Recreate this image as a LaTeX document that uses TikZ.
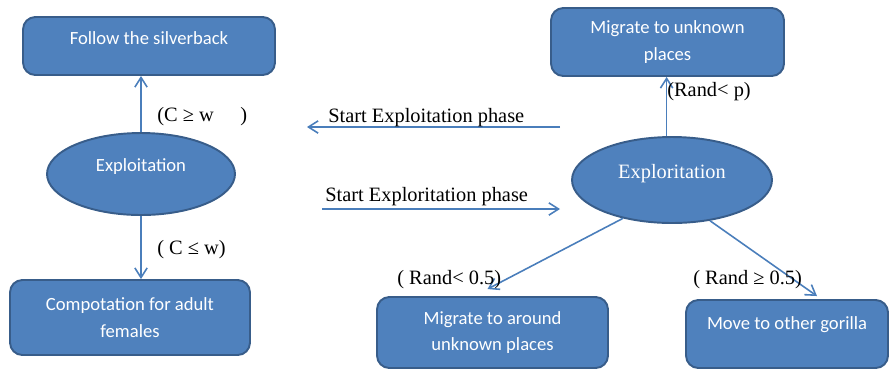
\documentclass[tikz,border=0pt]{standalone}
\usepackage{fontspec}
\setmainfont{Liberation Serif}
\newfontfamily\calfont{Carlito}
\usetikzlibrary{shapes.geometric, arrows.meta}
\definecolor{boxblue}{HTML}{4F81BD}
\definecolor{edgeblue}{HTML}{385D8A}
\definecolor{linkblue}{HTML}{4A7EBB}

\begin{document}
\begin{tikzpicture}[x=0.02cm, y=-0.02cm,
    actbox/.style={draw=edgeblue, fill=boxblue, line width=1.1pt, rounded corners=7pt,
      text=white, align=center, font=\calfont\fontsize{10.6}{15.3}\selectfont},
    phase/.style={ellipse, draw=edgeblue, fill=boxblue, line width=1.1pt, text=white,
      inner sep=0pt, text depth=10pt},
    cond/.style={font=\fontsize{11.6}{13}\selectfont, inner sep=0pt},
    link/.style={draw=linkblue, line width=0.9pt, -{Straight Barb[length=5.5pt,width=7pt]}}]
  \useasboundingbox (0,0) rectangle (890,370);

  % Exploitation side
  \node[actbox, minimum width=5.04cm, minimum height=1.16cm, text depth=9pt] (follow) at (149,46) {Follow the silverback};
  \node[phase, minimum width=3.76cm, minimum height=1.64cm, font=\calfont\fontsize{10.6}{13}\selectfont] (exploit) at (141,174) {Exploitation};
  \node[actbox, minimum width=4.8cm, minimum height=1.5cm] (compet) at (130,317.5) {Compotation for adult\\females};
  \draw[link] (exploit.north) -- (exploit.north |- follow.south);
  \draw[link] (exploit.south) -- (exploit.south |- compet.north);
  \node[cond, anchor=west] (geq) at (157,117) {(C ≥ w\hspace{1.3em})};
  \node[cond, anchor=west] (leq) at (157,250) {( C ≤ w)};

  % switching between the phases
  \coordinate (exa) at (560,127);
  \coordinate (exb) at (307,127);
  \coordinate (era) at (322,209);
  \coordinate (erb) at (560,209);
  \draw[link] (exa) -- (exb);
  \draw[link] (era) -- (erb);
  \node[cond, anchor=west] (toexploit) at (328,118) {Start Exploitation phase};
  \node[cond, anchor=west] (toexplore) at (325,197) {Start Exploritation phase};

  % Exploritation side
  \node[actbox, minimum width=4.66cm, minimum height=1.36cm] (unknown) at (667.5,42) {Migrate to unknown\\places};
  \node[phase, minimum width=4cm, minimum height=1.72cm, font=\fontsize{11.6}{13}\selectfont] (explr) at (672,180) {Exploritation};
  \node[actbox, minimum width=4.62cm, minimum height=1.42cm] (around) at (492.5,332.5) {Migrate to around\\unknown places};
  \node[actbox, minimum width=4.04cm, minimum height=1.36cm, text depth=12pt] (other) at (787,334) {Move to other gorilla};
  \draw[link] (explr.97) -- (explr.97 |- unknown.south);
  \draw[link] (explr.218) -- ([shift={(-5,-7)}]around.north);
  \draw[link] (explr.313) -- ([shift={(30,-3)}]other.north);
  \node[cond, anchor=west] (randp) at (667,92) {(Rand< p)};
  \node[cond, anchor=west] (randlow) at (397,280) {( Rand< 0.5)};
  \node[cond, anchor=west] (randhigh) at (693,280) {( Rand ≥ 0.5)};
\end{tikzpicture}
\end{document}
